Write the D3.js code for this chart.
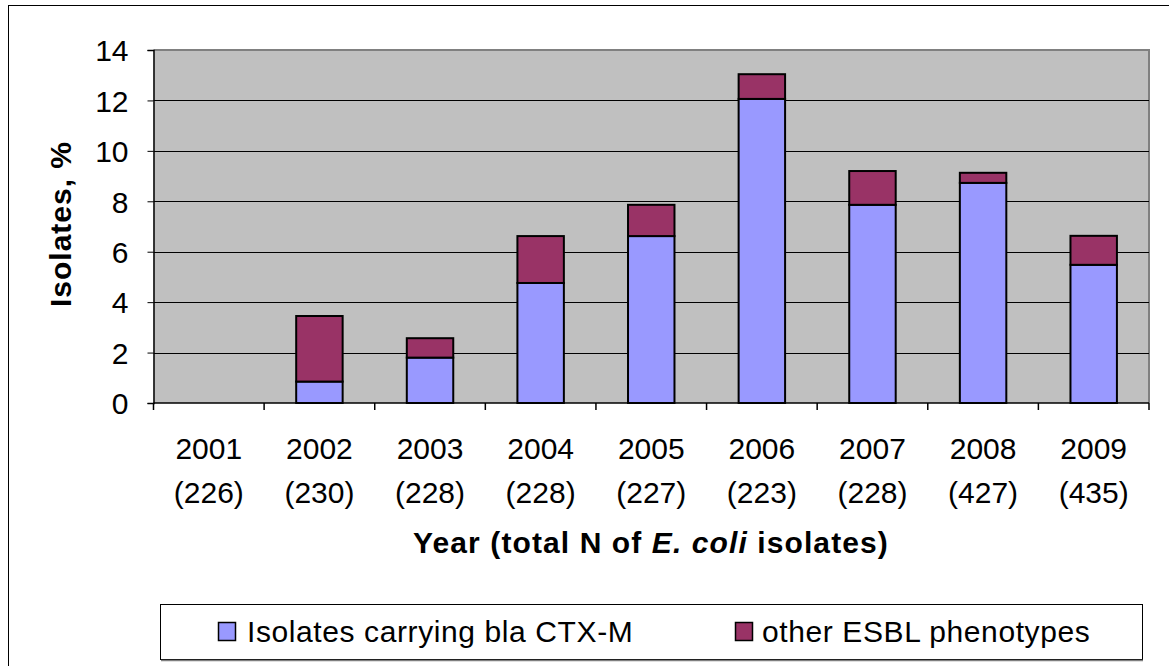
<!DOCTYPE html>
<html>
<head>
<meta charset="utf-8">
<script src="https://cdn.jsdelivr.net/npm/d3@7"></script>
<style>
  body { margin: 0; background: #fff; }
  text { font-family: Arial, "Liberation Sans", sans-serif; fill: #000; }
</style>
</head>
<body>
<div id="chart"></div>
<script>
const years = ['2001', '2002', '2003', '2004', '2005', '2006', '2007', '2008', '2009']
const totals = ['(226)', '(230)', '(228)', '(228)', '(227)', '(223)', '(228)', '(427)', '(435)']
const ctxm = [0, 0.85, 1.8, 4.76, 6.62, 12.06, 7.86, 8.73, 5.48]
const otherEsbl = [0, 2.6, 0.77, 1.86, 1.24, 0.98, 1.34, 0.4, 1.15]
const yTicks = [0, 2, 4, 6, 8, 10, 12, 14]
const seriesNames = ['Isolates carrying bla CTX-M', 'other ESBL phenotypes']
const colors = ['#9999FF', '#993366']

const width = 1169, height = 666
const plot = { left: 153.5, right: 1149, top: 50, bottom: 403 }

const svg = d3.select('#chart').append('svg')
   .attr('width', width)
   .attr('height', height)

// outer chart frame
svg.append('rect')
   .attr('x', 8.5).attr('y', 5.5)
   .attr('width', width + 10).attr('height', height + 10)
   .attr('fill', 'none').attr('stroke', '#000').attr('stroke-width', 1)

const x = d3.scaleBand().domain(years).range([plot.left, plot.right]).paddingInner(0.58).paddingOuter(0.29)
const xOuter = d3.scaleBand().domain(years).range([plot.left, plot.right])
const y = d3.scaleLinear().domain([0, 14]).range([plot.bottom, plot.top])

// plot area
svg.append('rect')
   .attr('x', plot.left).attr('y', plot.top)
   .attr('width', plot.right - plot.left).attr('height', plot.bottom - plot.top)
   .attr('fill', '#C0C0C0')
svg.append('path')
   .attr('d', `M${plot.left},${plot.top} H${plot.right} V${plot.bottom}`)
   .attr('fill', 'none').attr('stroke', '#808080').attr('stroke-width', 2)

// gridlines
svg.append('g').selectAll('line')
   .data(yTicks.filter(d => d > 0 && d < 14))
   .join('line')
   .attr('x1', plot.left).attr('x2', plot.right)
   .attr('y1', d => Math.round(y(d)) + 0.5).attr('y2', d => Math.round(y(d)) + 0.5)
   .attr('stroke', '#000').attr('stroke-width', 1)

// stacked bars
const stacked = d3.stack().keys([0, 1]).value((d, k) => d[k])(years.map((yr, i) => {
   const r = [ctxm[i], otherEsbl[i]]
   r.year = yr
   return r
}))

svg.append('g').selectAll('g')
   .data(stacked)
   .join('g')
   .attr('fill', (d, i) => colors[i])
   .selectAll('rect')
   .data(d => d.filter(s => s[1] - s[0] > 0))
   .join('rect')
   .attr('x', d => x(d.data.year))
   .attr('width', x.bandwidth())
   .attr('y', d => y(d[1]))
   .attr('height', d => y(d[0]) - y(d[1]))
   .attr('stroke', '#000').attr('stroke-width', 2)

// y axis
const yAxis = svg.append('g')
   .attr('transform', `translate(${plot.left},0)`)
   .call(d3.axisLeft(y).tickValues(yTicks).tickSize(6).tickPadding(19).tickFormat(d3.format('d')))
yAxis.select('.domain').attr('stroke', '#000').attr('stroke-width', 1.5)
yAxis.selectAll('text').style('font-size', '30px').attr('dy', '0.36em')

// x axis
const xAxisG = svg.append('g').attr('transform', `translate(0,${plot.bottom})`)
xAxisG.append('line')
   .attr('x1', plot.left).attr('x2', plot.right)
   .attr('stroke', '#000').attr('stroke-width', 1.5)
xAxisG.selectAll('line.tick')
   .data(years.concat(['end']))
   .join('line')
   .attr('class', 'tick')
   .attr('x1', (d, i) => i < years.length ? xOuter(d) : plot.right)
   .attr('x2', (d, i) => i < years.length ? xOuter(d) : plot.right)
   .attr('y1', 0).attr('y2', 7)
   .attr('stroke', '#000').attr('stroke-width', 1.5)

const xl = svg.append('g').selectAll('g')
   .data(years)
   .join('g')
   .attr('transform', d => `translate(${xOuter(d) + xOuter.bandwidth() / 2},0)`)
xl.append('text')
   .attr('y', 459).attr('text-anchor', 'middle')
   .style('font-size', '30px')
   .text(d => d)
xl.append('text')
   .attr('y', 503).attr('text-anchor', 'middle')
   .style('font-size', '30px')
   .text((d, i) => totals[i])

// axis titles
const xt = svg.append('text')
   .attr('x', 651).attr('y', 553)
   .attr('text-anchor', 'middle')
   .style('font-size', '30px').style('font-weight', 'bold')
   .style('letter-spacing', '1.1px')
xt.append('tspan').text('Year (total N of ')
xt.append('tspan').style('font-style', 'italic').text('E. coli')
xt.append('tspan').text(' isolates)')

svg.append('text')
   .attr('transform', 'translate(71,224) rotate(-90)')
   .attr('text-anchor', 'middle')
   .style('font-size', '30px').style('font-weight', 'bold')
   .style('letter-spacing', '1px')
   .text('Isolates, %')

// legend
svg.append('rect')
   .attr('x', 160.5).attr('y', 604.5)
   .attr('width', 982).attr('height', 55)
   .attr('fill', '#fff').attr('stroke', '#000').attr('stroke-width', 1)
svg.append('line')
   .attr('x1', 161).attr('x2', 1143).attr('y1', 660.5).attr('y2', 660.5)
   .attr('stroke', '#808080').attr('stroke-width', 1.5)

const legendX = [218, 735]
const lg = svg.append('g').selectAll('g')
   .data(seriesNames)
   .join('g')
   .attr('transform', (d, i) => `translate(${legendX[i]},642)`)
lg.append('rect')
   .attr('x', 0.5).attr('y', -19.5)
   .attr('width', 17).attr('height', 18)
   .attr('fill', (d, i) => colors[i])
   .attr('stroke', '#000').attr('stroke-width', 1.5)
lg.append('text')
   .attr('x', (d, i) => i === 0 ? 29 : 27).attr('y', 0)
   .style('font-size', '30px')
   .style('letter-spacing', '0.6px')
   .text(d => d)
</script>
</body>
</html>
